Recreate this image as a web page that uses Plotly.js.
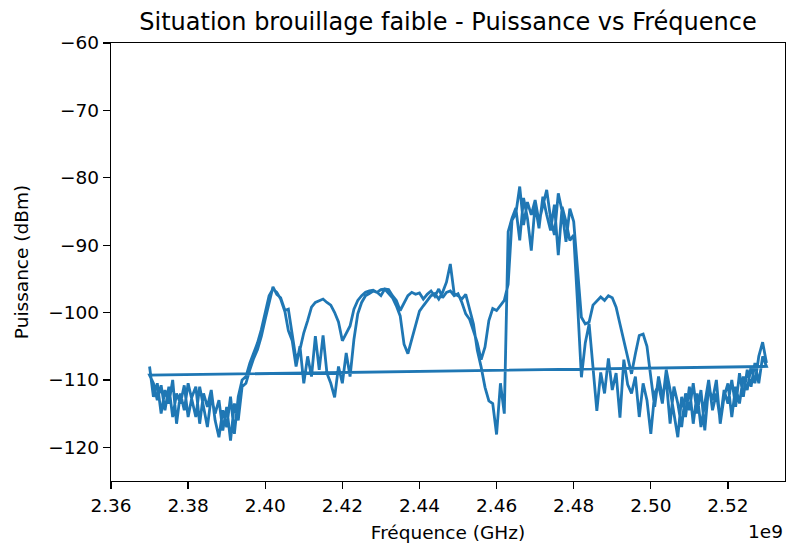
<!DOCTYPE html>
<html>
<head>
<meta charset="utf-8">
<script src="https://cdn.plot.ly/plotly-3.0.1.min.js"></script>
<style>html,body{margin:0;padding:0;background:#fff;}#chart{width:787px;height:544px;}</style>
</head>
<body>
<div id="chart"></div>
<script>
// Frequencies of each sweep (GHz, axis offset 1e9)
const freqs = [
2.370,2.371,2.372,2.373,2.374,2.375,2.376,2.377,2.378,2.379,
2.380,2.381,2.382,2.383,2.384,2.385,2.386,2.387,2.388,2.389,
2.390,2.391,2.392,2.393,2.394,2.395,2.396,2.397,2.398,2.399,
2.400,2.401,2.402,2.403,2.404,2.405,2.406,2.407,2.408,2.409,
2.410,2.411,2.412,2.413,2.414,2.415,2.416,2.417,2.418,2.419,
2.420,2.421,2.422,2.423,2.424,2.425,2.426,2.427,2.428,2.429,
2.430,2.431,2.432,2.433,2.434,2.435,2.436,2.437,2.438,2.439,
2.440,2.441,2.442,2.443,2.444,2.445,2.446,2.447,2.448,2.449,
2.450,2.451,2.452,2.453,2.454,2.455,2.456,2.457,2.458,2.459,
2.460,2.461,2.462,2.463,2.464,2.465,2.466,2.467,2.468,2.469,
2.470,2.471,2.472,2.473,2.474,2.475,2.476,2.477,2.478,2.479,
2.480,2.481,2.482,2.483,2.484,2.485,2.486,2.487,2.488,2.489,
2.490,2.491,2.492,2.493,2.494,2.495,2.496,2.497,2.498,2.499,
2.500,2.501,2.502,2.503,2.504,2.505,2.506,2.507,2.508,2.509,
2.510,2.511,2.512,2.513,2.514,2.515,2.516,2.517,2.518,2.519,
2.520,2.521,2.522,2.523,2.524,2.525,2.526,2.527,2.528,2.529,
2.530];

// First sweep power (dBm)
const sweep1 = [
-108.0,-112.5,-110.5,-115.0,-111.5,-113.5,-110.0,-116.5,-112.0,-114.5,
-110.5,-113.0,-115.5,-111.0,-114.0,-117.0,-112.5,-115.0,-113.0,-117.5,
-114.0,-119.0,-113.5,-116.0,-111.0,-110.5,-108.5,-106.8,-105.5,-103.5,
-101.0,-98.5,-96.2,-97.3,-97.8,-99.5,-102.7,-104.2,-108.0,-105.0,
-110.5,-106.5,-109.5,-103.5,-108.5,-103.4,-109.0,-110.5,-112.6,-108.0,
-110.5,-106.0,-109.5,-104.0,-100.2,-98.5,-97.5,-97.2,-96.8,-97.0,
-96.6,-96.5,-97.2,-97.8,-99.0,-100.5,-104.7,-106.1,-104.0,-101.8,
-99.8,-99.0,-98.2,-97.5,-97.2,-98.0,-97.0,-95.5,-92.8,-97.2,
-97.5,-98.0,-97.3,-99.5,-101.7,-105.6,-108.1,-111.1,-113.1,-113.5,
-118.1,-110.5,-115.0,-88.0,-86.0,-84.5,-89.3,-83.0,-86.0,-90.8,
-84.0,-87.5,-82.8,-85.5,-87.8,-84.0,-91.5,-84.3,-86.5,-89.3,
-88.5,-98.7,-109.6,-104.5,-101.7,-108.1,-114.6,-108.9,-112.0,-106.8,
-111.5,-109.0,-115.6,-107.0,-110.7,-112.0,-109.5,-115.5,-110.5,-113.0,
-118.0,-112.0,-110.7,-113.5,-108.5,-111.5,-115.0,-118.5,-112.5,-115.5,
-111.0,-116.5,-112.0,-117.0,-113.5,-110.0,-114.5,-112.0,-116.0,-111.5,
-113.5,-110.0,-114.0,-109.0,-112.5,-108.5,-111.0,-107.5,-110.5,-106.5,
-108.0];

// Second sweep power (dBm)
const sweep2 = [
-109.3,-110.5,-113.0,-110.8,-114.5,-111.0,-115.5,-112.0,-113.5,-110.8,
-115.5,-112.5,-111.0,-116.5,-112.0,-114.0,-111.5,-116.0,-118.5,-114.5,
-117.0,-112.5,-118.0,-112.5,-110.0,-109.5,-107.5,-106.0,-104.5,-102.5,
-100.0,-97.5,-96.5,-97.0,-98.0,-99.7,-99.5,-103.0,-107.0,-105.5,
-103.0,-101.2,-99.2,-98.5,-98.2,-98.0,-98.5,-98.9,-100.0,-101.4,
-104.2,-103.0,-102.0,-99.5,-98.2,-97.5,-97.0,-96.8,-96.7,-97.0,
-97.5,-96.5,-96.6,-97.5,-98.2,-99.7,-98.5,-97.5,-97.0,-97.3,
-97.1,-98.0,-97.3,-96.8,-97.6,-96.5,-97.8,-97.0,-96.8,-97.5,
-97.2,-98.5,-100.2,-101.0,-102.7,-104.5,-107.0,-105.1,-101.2,-99.4,
-99.7,-99.0,-98.2,-95.8,-86.3,-85.3,-81.3,-87.0,-83.6,-85.5,
-83.3,-86.5,-84.0,-81.8,-86.0,-88.5,-82.3,-85.0,-89.5,-84.6,
-86.5,-93.7,-100.7,-101.7,-101.4,-98.9,-98.3,-97.7,-98.2,-97.5,
-97.8,-99.2,-101.7,-104.2,-106.7,-109.1,-106.1,-103.4,-103.2,-105.0,
-109.6,-114.0,-109.5,-112.5,-110.0,-116.5,-111.0,-113.5,-117.0,-112.0,
-114.5,-110.5,-115.0,-111.5,-117.5,-111.0,-113.0,-110.0,-116.5,-112.5,
-110.5,-115.5,-111.0,-113.5,-109.5,-111.5,-108.0,-110.5,-106.5,-104.4,
-107.5];

const xTicks = [2.36,2.38,2.40,2.42,2.44,2.46,2.48,2.50,2.52];
const yTicks = [-120,-110,-100,-90,-80,-70,-60];

const FONT = 'DejaVu Sans, sans-serif';

const trace = {
  x: freqs.concat(freqs),
  y: sweep1.concat(sweep2),
  type: 'scatter',
  mode: 'lines',
  line: {color: '#1f77b4', width: 2.8},
  hoverinfo: 'skip'
};

const layout = {
  width: 787, height: 544,
  margin: {l: 111, r: 2, t: 43, b: 63, pad: 0},
  paper_bgcolor: '#ffffff',
  plot_bgcolor: '#ffffff',
  showlegend: false,
  font: {family: FONT, color: '#000000', size: 18.5},
  title: {
    text: 'Situation brouillage faible - Puissance vs Fréquence',
    font: {family: FONT, size: 24, color: '#000000'},
    x: 0.5, xref: 'paper', xanchor: 'center',
    y: 1 - 22/544, yref: 'container', yanchor: 'middle'
  },
  xaxis: {
    range: [2.36, 2.5348],
    tickvals: xTicks,
    tickformat: '.2f',
    ticks: 'outside', ticklen: 7, tickwidth: 1.3, tickcolor: '#000',
    showline: true, linecolor: '#000', linewidth: 1.3, mirror: true,
    showgrid: false, zeroline: false,
    tickfont: {family: FONT, size: 18.5, color: '#000'},
    title: {text: 'Fréquence (GHz)', font: {family: FONT, size: 18.5, color: '#000'}, standoff: 11}
  },
  yaxis: {
    range: [-125, -60],
    tickvals: yTicks,
    ticks: 'outside', ticklen: 7, tickwidth: 1.3, tickcolor: '#000',
    showline: true, linecolor: '#000', linewidth: 1.3, mirror: true,
    showgrid: false, zeroline: false,
    tickfont: {family: FONT, size: 18.5, color: '#000'},
    title: {text: 'Puissance (dBm)', font: {family: FONT, size: 18.5, color: '#000'}, standoff: 14}
  },
  annotations: [{
    text: '1e9', xref: 'paper', yref: 'paper', x: 1, y: 0,
    xanchor: 'right', yanchor: 'top', yshift: -38, showarrow: false,
    font: {family: FONT, size: 18.5, color: '#000'}
  }]
};

Plotly.newPlot('chart', [trace], layout, {displayModeBar: false, staticPlot: true});
</script>
</body>
</html>
